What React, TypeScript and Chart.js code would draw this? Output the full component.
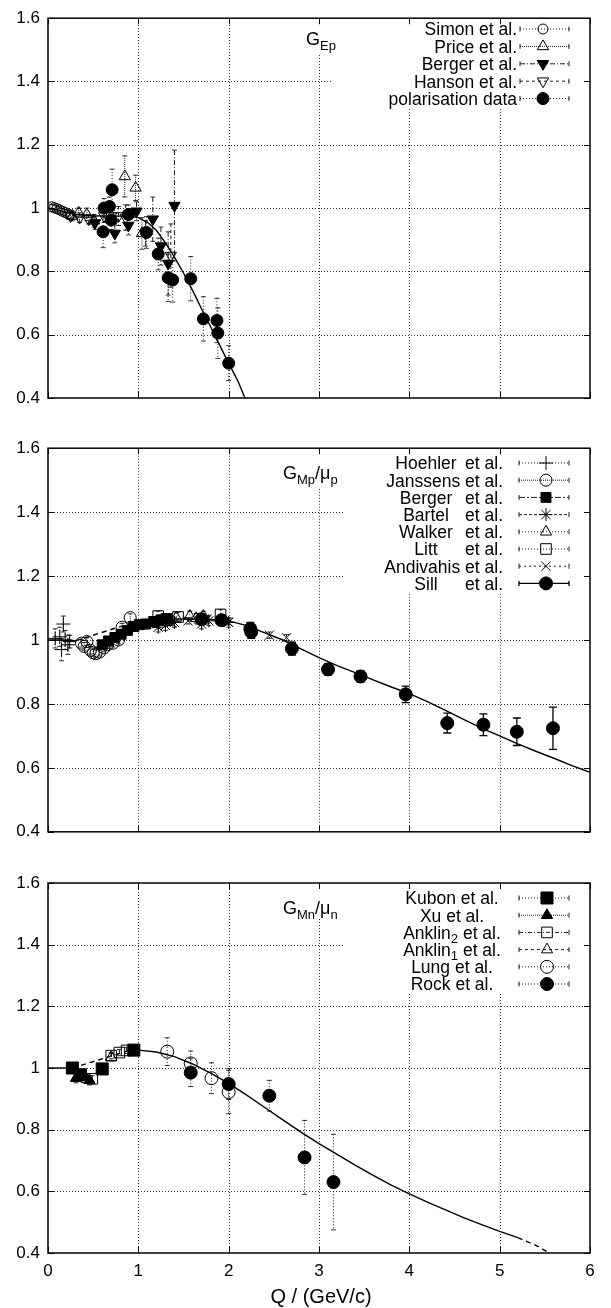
import React, { useEffect, useRef } from "react";
import { Chart, registerables } from "chart.js";

Chart.register(...registerables);

const FONT = '"Liberation Sans", Arial, Helvetica, sans-serif';

// ---------------- axes ----------------
const Q_MIN = 0;
const Q_MAX = 6;
const Q_STEP = 1;
const G_MIN = 0.4;
const G_MAX = 1.6;
const G_STEP = 0.2;
const X_TITLE = "Q / (GeV/c)";

// ---------------- panel 1 : G_Ep ----------------
const TAG_EP = "G_{Ep}";
const simonQ = [0.04, 0.07, 0.1, 0.13, 0.16, 0.19, 0.22, 0.25];
const simonG = [1.004, 1.001, 0.998, 0.994, 0.99, 0.986, 0.982, 0.978];
const simonErr = [0.008, 0.008, 0.008, 0.009, 0.009, 0.01, 0.01, 0.012];

const priceQ = [0.27, 0.34, 0.43, 0.51, 0.85, 0.97, 1.04];
const priceG = [0.975, 0.985, 0.98, 0.96, 1.1, 1.064, 0.92];
const priceErr = [0.015, 0.015, 0.02, 0.02, 0.065, 0.04, 0.05];

const bergerEpQ = [0.52, 0.74, 0.89, 0.98, 1.08, 1.16, 1.25, 1.33, 1.4];
const bergerEpG = [0.953, 0.92, 0.945, 0.99, 0.92, 0.965, 0.88, 0.825, 1.008];
const bergerEpErr = [0.02, 0.03, 0.03, 0.03, 0.04, 0.07, 0.06, 0.1, 0.175];

const hansonQ = [0.25, 0.35, 0.45, 0.62, 0.7, 0.78, 0.86, 1.36];
const hansonG = [0.975, 0.97, 0.965, 0.975, 0.975, 0.975, 0.97, 0.85];
const hansonErr = [0.01, 0.015, 0.015, 0.02, 0.02, 0.03, 0.04, 0.1];

const polarQ = [0.61, 0.62, 0.68, 0.7, 0.71, 0.89, 1.09, 1.22, 1.33, 1.38, 1.58, 1.72, 1.87, 1.88, 2.0];
const polarG = [0.925, 1.0, 1.005, 0.962, 1.058, 0.98, 0.923, 0.855, 0.78, 0.773, 0.777, 0.65, 0.645, 0.605, 0.51];
const polarErr = [0.05, 0.03, 0.03, 0.03, 0.065, 0.03, 0.05, 0.05, 0.075, 0.07, 0.07, 0.07, 0.07, 0.08, 0.055];

const fitEpQ = [0, 0.1, 0.2, 0.3, 0.5, 0.7, 0.9, 1.0, 1.1, 1.2, 1.3, 1.4, 1.5, 1.6, 1.7, 1.8, 1.9, 2.0, 2.1, 2.18];
const fitEpG = [1.0, 0.995, 0.987, 0.98, 0.976, 0.975, 0.974, 0.97, 0.955, 0.93, 0.89, 0.845, 0.795, 0.74, 0.682, 0.625, 0.567, 0.51, 0.455, 0.4];

// ---------------- panel 2 : G_Mp / mu_p ----------------
const TAG_MP = "G_{Mp}/\u03bc_{p}";
const hoehlerQ = [0.08, 0.13, 0.15, 0.17, 0.19, 0.22, 0.24];
const hoehlerG = [1.005, 1.01, 0.97, 1.05, 1.0, 0.985, 0.995];
const hoehlerErr = [0.03, 0.03, 0.035, 0.025, 0.03, 0.03, 0.02];

const janssensQ = [0.37, 0.4, 0.43, 0.47, 0.5, 0.53, 0.57, 0.62, 0.66, 0.72, 0.78, 0.82, 0.91];
const janssensG = [0.99, 0.98, 0.995, 0.968, 0.96, 0.957, 0.962, 0.975, 0.985, 0.99, 1.0, 1.04, 1.07];
const janssensErr = [0.012, 0.012, 0.012, 0.012, 0.012, 0.012, 0.012, 0.012, 0.012, 0.012, 0.012, 0.012, 0.012];

const bergerMpQ = [0.6, 0.67, 0.74, 0.81, 0.88, 0.95, 1.01, 1.08, 1.17, 1.25, 1.32];
const bergerMpG = [0.985, 0.997, 1.008, 1.018, 1.03, 1.042, 1.048, 1.05, 1.058, 1.063, 1.066];
const bergerMpErr = [0.012, 0.012, 0.012, 0.012, 0.012, 0.012, 0.012, 0.015, 0.015, 0.015, 0.015];

const bartelQ = [1.22, 1.3, 1.4, 1.7, 1.78, 2.0];
const bartelG = [1.04, 1.045, 1.055, 1.05, 1.06, 1.055];
const bartelErr = [0.015, 0.015, 0.015, 0.015, 0.015, 0.015];

const walkerQ = [1.42, 1.57, 1.64, 1.72];
const walkerG = [1.07, 1.075, 1.068, 1.075];
const walkerErr = [0.015, 0.015, 0.015, 0.015];

const littQ = [1.22, 1.31, 1.44, 1.91];
const littG = [1.075, 1.066, 1.072, 1.08];
const littErr = [0.015, 0.015, 0.015, 0.015];

const andivahisQ = [1.2, 1.37, 1.55, 1.76, 1.99, 2.45, 2.64];
const andivahisG = [1.05, 1.055, 1.06, 1.066, 1.057, 1.015, 1.007];
const andivahisErr = [0.01, 0.01, 0.01, 0.01, 0.01, 0.01, 0.01];

const sillQ = [1.7, 1.92, 2.24, 2.25, 2.7, 3.1, 3.46, 3.96, 4.42, 4.82, 5.19, 5.59];
const sillG = [1.065, 1.062, 1.035, 1.025, 0.973, 0.908, 0.886, 0.83, 0.74, 0.735, 0.713, 0.724];
const sillErr = [0.01, 0.012, 0.02, 0.02, 0.02, 0.018, 0.018, 0.026, 0.031, 0.034, 0.043, 0.066];

const fitMpQ = [0, 0.1, 0.2, 0.31, 0.97, 1.2, 1.5, 1.8, 2.0, 2.2, 2.4, 2.6, 2.8, 3.0, 3.2, 3.4, 3.6, 3.8, 4.0, 4.2, 4.4, 4.6, 4.8, 5.0, 5.2, 5.4, 5.6, 5.8, 6.0];
const fitMpG = [1.0, 1.0, 0.999, 0.998, 1.057, 1.063, 1.066, 1.064, 1.06, 1.045, 1.022, 1.0, 0.972, 0.945, 0.92, 0.898, 0.875, 0.853, 0.832, 0.807, 0.78, 0.752, 0.724, 0.7, 0.675, 0.652, 0.63, 0.607, 0.586];

// ---------------- panel 3 : G_Mn / mu_n ----------------
const TAG_MN = "G_{Mn}/\u03bc_{n}";
const kubonQ = [0.27, 0.36, 0.6, 0.95];
const kubonG = [1.0, 0.978, 0.997, 1.058];
const kubonErr = [0.01, 0.012, 0.01, 0.008];

const xuQ = [0.31, 0.46];
const xuG = [0.967, 0.96];
const xuErr = [0.015, 0.015];

const anklin2Q = [0.49, 0.7, 0.79, 0.87];
const anklin2G = [0.965, 1.04, 1.05, 1.057];
const anklin2Err = [0.01, 0.01, 0.01, 0.01];

const anklin1Q = [0.43, 0.7];
const anklin1G = [0.963, 1.035];
const anklin1Err = [0.012, 0.012];

const lungQ = [1.32, 1.58, 1.81, 2.0];
const lungG = [1.053, 1.015, 0.967, 0.922];
const lungErr = [0.045, 0.04, 0.05, 0.07];

const rockQ = [1.58, 2.0, 2.45, 2.84, 3.16];
const rockG = [0.985, 0.948, 0.91, 0.71, 0.63];
const rockErr = [0.045, 0.05, 0.05, 0.12, 0.155];

const fitMnQ = [0, 0.1, 0.2, 0.27, 0.9, 1.0, 1.2, 1.4, 1.6, 1.8, 2.0, 2.2, 2.4, 2.6, 2.8, 3.0, 3.2, 3.4, 3.6, 3.8, 4.0, 4.2, 4.4, 4.6, 4.8, 5.0, 5.2, 5.4, 5.55];
const fitMnG = [1.0, 1.0, 1.0, 1.0, 1.057, 1.058, 1.052, 1.037, 1.013, 0.983, 0.95, 0.912, 0.872, 0.832, 0.792, 0.755, 0.72, 0.685, 0.652, 0.62, 0.592, 0.565, 0.54, 0.515, 0.492, 0.47, 0.45, 0.425, 0.4];

// ---------------- types ----------------
type Mk = "circle" | "triangle" | "rect" | "cross" | "crossRot" | "star";

interface SeriesDef {
  label: string;
  q: number[];
  g: number[];
  err: number[];
  marker: Mk;
  r: number;
  filled: boolean;
  rot?: number;
  dash: number[];
  lw?: number;
  cap?: number;
}

interface PanelCfg {
  top: number;
  height: number;
  padTop: number;
  xHeight: number;
  showX: boolean;
  series: SeriesDef[];
  fitQ: number[];
  fitG: number[];
  dashRanges: [number, number][];
  tag: string;
  tagX: number;
  tagBase: number;
  blanks: [number, number, number, number][];
  key: { y0: number; dy: number; mode: "right" | "center" | "split"; tx: number; tx2?: number; sx1: number; sx2: number; mx: number };
}

const PANELS: PanelCfg[] = [
  {
    top: 0,
    height: 420,
    padTop: 12,
    xHeight: 22,
    showX: false,
    series: [
      { label: "Simon et al.", q: simonQ, g: simonG, err: simonErr, marker: "circle", r: 5, filled: false, dash: [1, 2] },
      { label: "Price et al.", q: priceQ, g: priceG, err: priceErr, marker: "triangle", r: 6.5, filled: false, dash: [1, 1] },
      { label: "Berger et al.", q: bergerEpQ, g: bergerEpG, err: bergerEpErr, marker: "triangle", rot: 180, r: 6.5, filled: true, dash: [5, 2, 1, 2] },
      { label: "Hanson et al.", q: hansonQ, g: hansonG, err: hansonErr, marker: "triangle", rot: 180, r: 6.5, filled: false, dash: [3, 3] },
      { label: "polarisation data", q: polarQ, g: polarG, err: polarErr, marker: "circle", r: 6, filled: true, dash: [1, 2] },
    ],
    fitQ: fitEpQ,
    fitG: fitEpG,
    dashRanges: [],
    tag: TAG_EP,
    tagX: 306,
    tagBase: 45,
    blanks: [
      [331, 0, 620, 108],
      [298, 0, 345, 54],
    ],
    key: { y0: 29, dy: 17.4, mode: "right", tx: 517, sx1: 520, sx2: 569, mx: 543 },
  },
  {
    top: 430,
    height: 420,
    padTop: 17,
    xHeight: 17,
    showX: false,
    series: [
      { label: "Hoehler et al.", q: hoehlerQ, g: hoehlerG, err: hoehlerErr, marker: "cross", r: 7, filled: false, dash: [1, 2] },
      { label: "Janssens et al.", q: janssensQ, g: janssensG, err: janssensErr, marker: "circle", r: 6, filled: false, dash: [1, 1] },
      { label: "Berger et al.", q: bergerMpQ, g: bergerMpG, err: bergerMpErr, marker: "rect", r: 7, filled: true, dash: [6, 2, 2, 2] },
      { label: "Bartel et al.", q: bartelQ, g: bartelG, err: bartelErr, marker: "star", r: 6.5, filled: false, dash: [3, 2] },
      { label: "Walker et al.", q: walkerQ, g: walkerG, err: walkerErr, marker: "triangle", r: 6.5, filled: false, dash: [1, 2] },
      { label: "Litt et al.", q: littQ, g: littG, err: littErr, marker: "rect", r: 7.5, filled: false, dash: [1, 2] },
      { label: "Andivahis et al.", q: andivahisQ, g: andivahisG, err: andivahisErr, marker: "crossRot", r: 6.5, filled: false, dash: [2, 3] },
      { label: "Sill et al.", q: sillQ, g: sillG, err: sillErr, marker: "circle", r: 6.5, filled: true, dash: [], lw: 1.3, cap: 4 },
    ],
    fitQ: fitMpQ,
    fitG: fitMpG,
    dashRanges: [[0.3, 0.98]],
    tag: TAG_MP,
    tagX: 283,
    tagBase: 49,
    blanks: [
      [343, 0, 620, 162],
      [276, 0, 345, 57],
    ],
    key: { y0: 33, dy: 17.2, mode: "split", tx: 426, tx2: 503, sx1: 519, sx2: 569, mx: 546 },
  },
  {
    top: 860,
    height: 448,
    padTop: 23,
    xHeight: 55,
    showX: true,
    series: [
      { label: "Kubon et al.", q: kubonQ, g: kubonG, err: kubonErr, marker: "rect", r: 8.5, filled: true, dash: [1, 2] },
      { label: "Xu et al.", q: xuQ, g: xuG, err: xuErr, marker: "triangle", r: 6.5, filled: true, dash: [1, 1] },
      { label: "Anklin_{2} et al.", q: anklin2Q, g: anklin2G, err: anklin2Err, marker: "rect", r: 7.5, filled: false, dash: [4, 2, 1, 2] },
      { label: "Anklin_{1} et al.", q: anklin1Q, g: anklin1G, err: anklin1Err, marker: "triangle", r: 6.5, filled: false, dash: [3, 3] },
      { label: "Lung et al.", q: lungQ, g: lungG, err: lungErr, marker: "circle", r: 6.5, filled: false, dash: [1, 2] },
      { label: "Rock et al.", q: rockQ, g: rockG, err: rockErr, marker: "circle", r: 6.5, filled: true, dash: [1, 2] },
    ],
    fitQ: fitMnQ,
    fitG: fitMnG,
    dashRanges: [
      [0.26, 0.91],
      [5.19, 6],
    ],
    tag: TAG_MN,
    tagX: 283,
    tagBase: 54,
    blanks: [
      [343, 0, 620, 132],
      [276, 0, 345, 58],
    ],
    key: { y0: 38, dy: 17.2, mode: "center", tx: 452, sx1: 519, sx2: 569, mx: 547 },
  },
];

const KEY_FONT = 17.5;
const TICK_FONT = 17;
const TAG_FONT = 18;

// ---------------- drawing helpers ----------------
type Part = { t: string; sub: boolean };

function parseRich(s: string): Part[] {
  const parts: Part[] = [];
  const re = /_\{([^}]*)\}/g;
  let last = 0;
  let m: RegExpExecArray | null;
  while ((m = re.exec(s))) {
    if (m.index > last) parts.push({ t: s.slice(last, m.index), sub: false });
    parts.push({ t: m[1], sub: true });
    last = m.index + m[0].length;
  }
  if (last < s.length) parts.push({ t: s.slice(last), sub: false });
  return parts;
}

function richWidth(ctx: CanvasRenderingContext2D, parts: Part[], size: number) {
  const sub = Math.round(size * 0.72);
  let w = 0;
  parts.forEach((p) => {
    ctx.font = `${p.sub ? sub : size}px ${FONT}`;
    w += ctx.measureText(p.t).width;
  });
  return w;
}

function drawRich(ctx: CanvasRenderingContext2D, parts: Part[], x: number, base: number, size: number, align: "left" | "right" | "center") {
  const sub = Math.round(size * 0.72);
  const w = richWidth(ctx, parts, size);
  let cx = align === "right" ? x - w : align === "center" ? x - w / 2 : x;
  ctx.textAlign = "left";
  ctx.textBaseline = "alphabetic";
  ctx.fillStyle = "#000";
  parts.forEach((p) => {
    ctx.font = `${p.sub ? sub : size}px ${FONT}`;
    ctx.fillText(p.t, cx, p.sub ? base + size * 0.26 : base);
    cx += ctx.measureText(p.t).width;
  });
}

function drawMarker(ctx: CanvasRenderingContext2D, mk: Mk, x: number, y: number, r: number, filled: boolean, rot = 0) {
  ctx.save();
  ctx.translate(x, y);
  ctx.rotate((rot * Math.PI) / 180);
  ctx.setLineDash([]);
  ctx.lineWidth = 1;
  ctx.strokeStyle = "#000";
  ctx.fillStyle = "#000";
  ctx.beginPath();
  const d = r * Math.SQRT1_2;
  if (mk === "circle") ctx.arc(0, 0, r, 0, Math.PI * 2);
  else if (mk === "triangle") {
    for (let k = 0; k < 3; k++) {
      const a = (k * 2 * Math.PI) / 3;
      const px = Math.sin(a) * r;
      const py = -Math.cos(a) * r;
      if (k === 0) ctx.moveTo(px, py);
      else ctx.lineTo(px, py);
    }
    ctx.closePath();
  } else if (mk === "rect") ctx.rect(-d, -d, 2 * d, 2 * d);
  else {
    if (mk === "cross" || mk === "star") {
      ctx.moveTo(0, -r);
      ctx.lineTo(0, r);
      ctx.moveTo(-r, 0);
      ctx.lineTo(r, 0);
    }
    if (mk === "crossRot" || mk === "star") {
      ctx.moveTo(-d, -d);
      ctx.lineTo(d, d);
      ctx.moveTo(-d, d);
      ctx.lineTo(d, -d);
    }
  }
  if (filled && (mk === "circle" || mk === "triangle" || mk === "rect")) ctx.fill();
  ctx.stroke();
  ctx.restore();
}

function freeSegments(a0: number, a1: number, blocks: [number, number][]): [number, number][] {
  let segs: [number, number][] = [[a0, a1]];
  for (const [b0, b1] of blocks) {
    const next: [number, number][] = [];
    for (const [s0, s1] of segs) {
      if (b1 <= s0 || b0 >= s1) {
        next.push([s0, s1]);
        continue;
      }
      if (b0 > s0) next.push([s0, b0]);
      if (b1 < s1) next.push([b1, s1]);
    }
    segs = next;
  }
  return segs;
}

function makePlugin(cfg: PanelCfg) {
  return {
    id: "gnuplotDeco",
    beforeDatasetsDraw(chart: any) {
      const { ctx, chartArea: a, scales } = chart;
      const xs = scales.x;
      const ys = scales.y;
      // grid
      ctx.save();
      ctx.strokeStyle = "rgba(0,0,0,0.8)";
      ctx.lineWidth = 1;
      ctx.setLineDash([1, 2]);
      xs.ticks.forEach((t: any) => {
        if (t.value <= xs.min || t.value >= xs.max) return;
        const px = Math.round(xs.getPixelForValue(t.value)) + 0.5;
        const blocks = cfg.blanks.filter((b) => px >= b[0] && px <= b[2]).map((b) => [b[1], b[3]] as [number, number]);
        freeSegments(a.top, a.bottom, blocks).forEach(([s0, s1]) => {
          ctx.beginPath();
          ctx.moveTo(px, s1);
          ctx.lineTo(px, s0);
          ctx.stroke();
        });
      });
      ys.ticks.forEach((t: any) => {
        if (t.value <= ys.min + 1e-9 || t.value >= ys.max - 1e-9) return;
        const py = Math.round(ys.getPixelForValue(t.value)) + 0.5;
        const blocks = cfg.blanks.filter((b) => py >= b[1] && py <= b[3]).map((b) => [b[0], b[2]] as [number, number]);
        freeSegments(a.left, a.right, blocks).forEach(([s0, s1]) => {
          ctx.beginPath();
          ctx.moveTo(s0, py);
          ctx.lineTo(s1, py);
          ctx.stroke();
        });
      });
      ctx.restore();
      // error bars
      ctx.save();
      ctx.beginPath();
      ctx.rect(a.left, a.top, a.right - a.left, a.bottom - a.top);
      ctx.clip();
      chart.data.datasets.forEach((ds: any, i: number) => {
        if (!ds.errs) return;
        const meta = chart.getDatasetMeta(i);
        const cap = ds.cap;
        meta.data.forEach((el: any, j: number) => {
          const v = ds.data[j].y;
          const e = ds.errs[j];
          const px = el.x;
          const y1 = ys.getPixelForValue(v + e);
          const y2 = ys.getPixelForValue(v - e);
          ctx.strokeStyle = "#000";
          ctx.lineWidth = ds.errWidth;
          ctx.setLineDash(ds.errDash);
          ctx.beginPath();
          ctx.moveTo(px, y1);
          ctx.lineTo(px, y2);
          ctx.stroke();
          ctx.setLineDash([]);
          ctx.lineWidth = ds.errWidth > 1 ? ds.errWidth : 0.8;
          ctx.beginPath();
          ctx.moveTo(px - cap, y1);
          ctx.lineTo(px + cap, y1);
          ctx.moveTo(px - cap, y2);
          ctx.lineTo(px + cap, y2);
          ctx.stroke();
        });
      });
      ctx.restore();
    },
    afterDraw(chart: any) {
      const { ctx, chartArea: a, scales } = chart;
      const xs = scales.x;
      const ys = scales.y;
      ctx.save();
      // border
      ctx.setLineDash([]);
      ctx.strokeStyle = "#000";
      ctx.lineWidth = 1.5;
      ctx.strokeRect(a.left, a.top, a.right - a.left, a.bottom - a.top);
      // tick marks inward on all sides
      ctx.lineWidth = 1;
      const TL = 6;
      ctx.beginPath();
      xs.ticks.forEach((t: any) => {
        const px = Math.round(xs.getPixelForValue(t.value)) + 0.5;
        ctx.moveTo(px, a.bottom);
        ctx.lineTo(px, a.bottom - TL);
        ctx.moveTo(px, a.top);
        ctx.lineTo(px, a.top + TL);
      });
      ys.ticks.forEach((t: any) => {
        const py = Math.round(ys.getPixelForValue(t.value)) + 0.5;
        ctx.moveTo(a.left, py);
        ctx.lineTo(a.left + TL, py);
        ctx.moveTo(a.right, py);
        ctx.lineTo(a.right - TL, py);
      });
      ctx.stroke();
      // panel tag
      drawRich(ctx, parseRich(cfg.tag), cfg.tagX, cfg.tagBase, TAG_FONT, "left");
      // key
      const k = cfg.key;
      cfg.series.forEach((s, i) => {
        const yc = k.y0 + i * k.dy;
        const base = yc + KEY_FONT * 0.36;
        if (k.mode === "split") {
          const idx = s.label.lastIndexOf(" et al.");
          const nameParts = parseRich(s.label.slice(0, idx));
          const restParts = parseRich(s.label.slice(idx + 1));
          const restW = richWidth(ctx, restParts, KEY_FONT);
          const nameW = richWidth(ctx, nameParts, KEY_FONT);
          const restLeft = (k.tx2 as number) - restW;
          const gap = KEY_FONT * 0.28;
          const nameRight = Math.min(k.tx + nameW / 2, restLeft - gap);
          drawRich(ctx, nameParts, nameRight, base, KEY_FONT, "right");
          drawRich(ctx, restParts, k.tx2 as number, base, KEY_FONT, "right");
        } else {
          drawRich(ctx, parseRich(s.label), k.tx, base, KEY_FONT, k.mode);
        }
        ctx.strokeStyle = "#000";
        ctx.lineWidth = s.lw ?? 0.9;
        ctx.setLineDash(s.dash);
        ctx.beginPath();
        ctx.moveTo(k.sx1, yc);
        ctx.lineTo(k.sx2, yc);
        ctx.stroke();
        ctx.setLineDash([]);
        ctx.beginPath();
        ctx.moveTo(k.sx1, yc - 2.5);
        ctx.lineTo(k.sx1, yc + 2.5);
        ctx.moveTo(k.sx2, yc - 2.5);
        ctx.lineTo(k.sx2, yc + 2.5);
        ctx.stroke();
        drawMarker(ctx, s.marker, k.mx, yc, s.r, s.filled, s.rot ?? 0);
      });
      // x title
      if (cfg.showX) {
        ctx.font = `20px ${FONT}`;
        ctx.fillStyle = "#000";
        ctx.textAlign = "center";
        ctx.textBaseline = "middle";
        const cx = (a.left + a.right) / 2 + 2;
        ctx.fillText(X_TITLE, cx, chart.height - 11);
      }
      ctx.restore();
    },
  };
}

function Panel({ cfg }: { cfg: PanelCfg }) {
  const ref = useRef<HTMLCanvasElement>(null);
  useEffect(() => {
    const canvas = ref.current;
    if (!canvas) return;
    const seriesSets = cfg.series.map((s) => ({
      label: s.label,
      data: s.q.map((q, i) => ({ x: q, y: s.g[i] })),
      showLine: false,
      pointStyle: s.marker,
      pointRadius: s.r,
      pointHoverRadius: s.r,
      pointRotation: s.rot ?? 0,
      pointBackgroundColor: s.filled ? "#000" : "rgba(0,0,0,0)",
      pointBorderColor: "#000",
      pointBorderWidth: 1,
      errs: s.err,
      errDash: s.dash,
      errWidth: s.lw ?? 0.9,
      cap: s.cap ?? 2.5,
    }));
    const ranges = cfg.dashRanges;
    const inDash = (x0: number, x1: number) => ranges.some(([r0, r1]) => x0 >= r0 - 1e-9 && x1 <= r1 + 1e-9);
    const fitSet = {
      label: "fit",
      data: cfg.fitQ.map((q, i) => ({ x: q, y: cfg.fitG[i] })),
      showLine: true,
      pointRadius: 0,
      borderColor: "#000",
      borderWidth: 1.4,
      tension: 0,
      segment: {
        borderDash: (c: any) => (inDash(c.p0.parsed.x, c.p1.parsed.x) ? [5, 4] : undefined),
      },
    };
    const datasets: any[] = [...seriesSets].reverse();
    datasets.push(fitSet);
    const chart = new Chart(canvas, {
      type: "scatter",
      data: { datasets },
      options: {
        animation: false,
        responsive: false,
        devicePixelRatio: 1,
        events: [],
        layout: { padding: { top: cfg.padTop, right: 21, left: 0, bottom: 0 } },
        plugins: { legend: { display: false }, tooltip: { enabled: false } },
        scales: {
          x: {
            type: "linear",
            position: "bottom",
            min: Q_MIN,
            max: Q_MAX,
            ticks: { stepSize: Q_STEP, display: cfg.showX, color: "#000", font: { family: FONT, size: TICK_FONT }, padding: 8, maxRotation: 0 },
            grid: { display: false, drawTicks: false },
            border: { display: false },
            afterFit: (s: any) => {
              s.height = cfg.xHeight;
            },
          },
          y: {
            type: "linear",
            min: G_MIN,
            max: G_MAX,
            ticks: {
              stepSize: G_STEP,
              color: "#000",
              font: { family: FONT, size: TICK_FONT },
              padding: 8,
              callback: (v: any) => String(Math.round(Number(v) * 10) / 10),
            },
            grid: { display: false, drawTicks: false },
            border: { display: false },
            afterFit: (s: any) => {
              s.width = 48;
            },
          },
        },
      } as any,
      plugins: [makePlugin(cfg)],
    });
    return () => chart.destroy();
  }, [cfg]);
  return (
    <canvas
      ref={ref}
      width={611}
      height={cfg.height}
      style={{ position: "absolute", left: 0, top: cfg.top, width: 611, height: cfg.height }}
    />
  );
}

export default function App() {
  return (
    <div style={{ position: "absolute", left: 0, top: 0, width: 611, height: 1308, background: "#fff" }}>
      {PANELS.map((p, i) => (
        <Panel key={i} cfg={p} />
      ))}
    </div>
  );
}
